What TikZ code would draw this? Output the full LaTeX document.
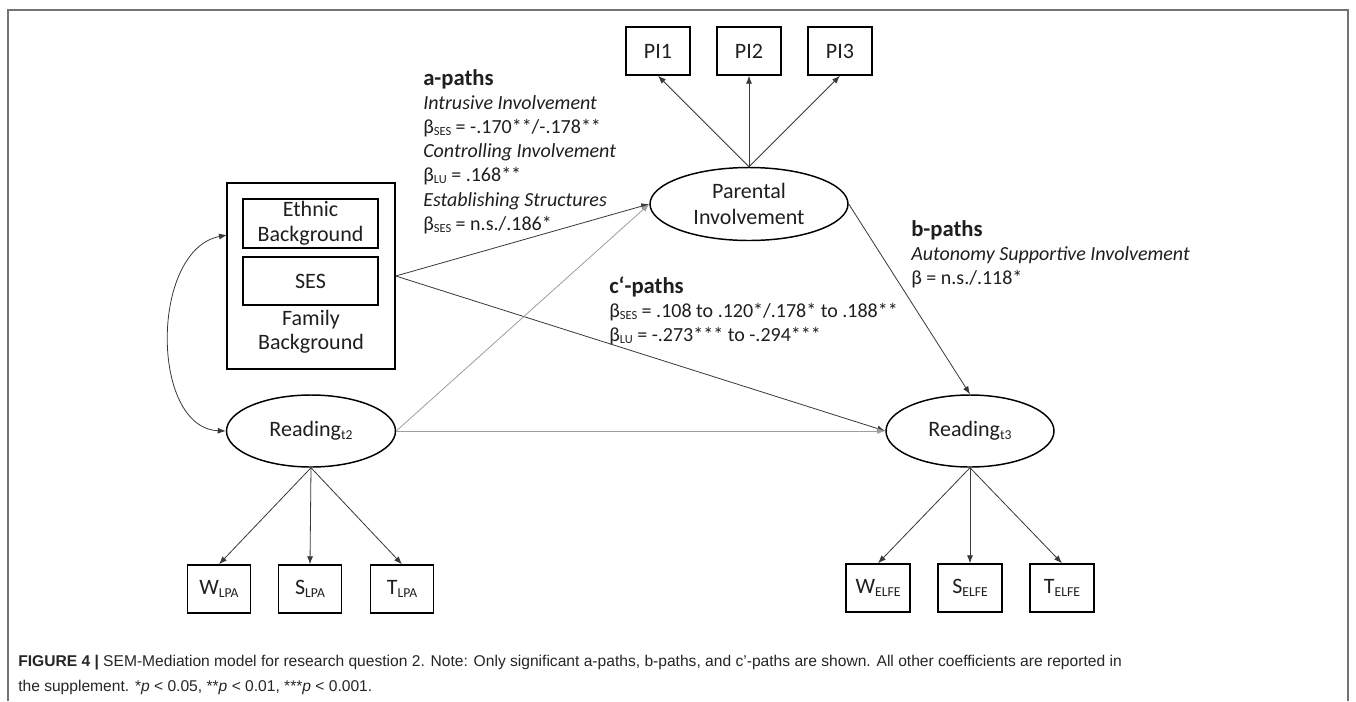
\documentclass[tikz,border=0pt]{standalone}
\usepackage{fontspec}
\setmainfont{Carlito}
\newfontfamily\capfont{Liberation Sans}
\usetikzlibrary{arrows.meta,shapes.geometric}
\newcommand\sbs[1]{\raisebox{-0.28ex}{\scalebox{0.62}{#1}}}
\begin{document}
\begin{tikzpicture}[x=0.75pt,y=-0.75pt,
  every node/.style={font=\fontsize{16.5pt}{19.5pt}\selectfont, text=black!88},
  obs/.style={draw, line width=1.1pt, minimum width=47.5pt, minimum height=36pt, inner sep=0pt},
  lat/.style={ellipse, draw, line width=1.1pt, inner sep=0pt},
  arr/.style={-{Latex[length=6pt,width=4.5pt]}, line width=0.6pt, draw=black!78},
  garr/.style={arr, draw=black!38},
  lbl/.style={anchor=base west, inner sep=0pt, font=\fontsize{15pt}{18pt}\selectfont},
  ital/.style={lbl, font=\fontsize{15pt}{18pt}\selectfont\itshape},
  hdr/.style={lbl, font=\fontsize{17pt}{20pt}\selectfont\bfseries},
  captxt/.style={anchor=base west, inner sep=0pt, font=\capfont\fontsize{11.7pt}{14pt}\selectfont, text=black!85}
]
\useasboundingbox (0,0) rectangle (1356,701);
\fill[white] (0,0) rectangle (1356,701);
% frame
\draw[line width=1.1pt, draw=black!55] (8,701) -- (8,10) -- (1348,10) -- (1348,701);

% Parental involvement
\node[lat, minimum width=148.5pt, minimum height=54.75pt, align=center] (par) at (749,204) {Parental\\Involvement};
\node[obs, minimum width=48pt] (pi1) at (658,51) {PI1};
\node[obs, minimum width=48pt] (pi2) at (749,51) {PI2};
\node[obs, minimum width=48pt] (pi3) at (840,51) {PI3};
\draw[arr] (par.north) -- (pi1.south);
\draw[arr] (par.north) -- (pi2.south);
\draw[arr] (par.north) -- (pi3.south);

% Family background
\node[draw, line width=1.1pt, minimum width=126pt, minimum height=139.5pt, inner sep=0pt] (fam) at (311,276) {};
\node[draw, line width=1.1pt, minimum width=101.25pt, minimum height=36.75pt, inner sep=0pt, align=center] (eth) at (310.5,223.5) {Ethnic\\[-1pt]Background};
\node[draw, line width=1.1pt, minimum width=101.25pt, minimum height=36pt, inner sep=0pt] (ses) at (310.5,281) {SES};
\node[inner sep=0pt, align=center, font=\fontsize{16.5pt}{18pt}\selectfont] (famlab) at (311,332) {Family\\Background};

% Reading t2
\node[lat, minimum width=126.75pt, minimum height=54pt] (rt2) at (311,431) {Reading\sbs{t2}};
\node[obs] (wl) at (219,589) {W\sbs{LPA}};
\node[obs] (sl) at (310,589) {S\sbs{LPA}};
\node[obs] (tl) at (402,589) {T\sbs{LPA}};
\draw[arr] (rt2.south) -- (wl.north);
\draw[arr] (rt2.south) -- (sl.north);
\draw[arr] (rt2.south) -- (tl.north);

% Reading t3
\node[lat, minimum width=126pt, minimum height=54pt] (rt3) at (970,431) {Reading\sbs{t3}};
\node[obs, minimum width=48pt] (we) at (878,588) {W\sbs{ELFE}};
\node[obs, minimum width=48pt] (se) at (970,588) {S\sbs{ELFE}};
\node[obs, minimum width=48pt] (te) at (1062,588) {T\sbs{ELFE}};
\draw[arr] (rt3.south) -- (we.north);
\draw[arr] (rt3.south) -- (se.north);
\draw[arr] (rt3.south) -- (te.north);

% covariance
\coordinate (famL) at (227,235);
\draw[{Latex[length=6pt,width=4.5pt]}-{Latex[length=6pt,width=4.5pt]}, line width=0.6pt, draw=black!78]
  (rt2.west) .. controls (150,428) and (150,250) .. (famL);

% structural paths
\draw[arr] (fam.east) -- (par.west);
\draw[arr] (fam.east) -- (rt3.west);
\draw[garr] (rt2.east) -- (par.west);
\draw[garr] (rt2.east) -- (rt3.west);
\draw[arr] (par.east) -- (rt3.north);

% a-paths
\node[hdr] (ah) at (423,85) {a-paths};
\node[ital] (a1) at (423,109) {Intrusive Involvement};
\node[lbl] (a2) at (423,133) {β\sbs{SES} = -.170**/-.178**};
\node[ital] (a3) at (423,157) {Controlling Involvement};
\node[lbl] (a4) at (423,181) {β\sbs{LU} = .168**};
\node[ital] (a5) at (423,206) {Establishing Structures};
\node[lbl] (a6) at (423,230) {β\sbs{SES} = n.s./.186*};

% b-paths
\node[hdr] (bh) at (911,236) {b-paths};
\node[ital] (b1) at (911,260) {Autonomy Supportive Involvement};
\node[lbl] (b2) at (911,284) {β = n.s./.118*};

% c'-paths
\node[hdr] (ch) at (609,293) {c‘-paths};
\node[lbl] (c1) at (609,317) {β\sbs{SES} = .108 to .120*/.178* to .188**};
\node[lbl] (c2) at (609,341) {β\sbs{LU} = -.273*** to -.294***};

% caption
\node[captxt] (cap1) at (18,666) {\textbf{FIGURE 4 |} SEM-Mediation model for research question 2. Note: Only significant a-paths, b-paths, and c’-paths are shown. All other coefficients are reported in};
\node[captxt] (cap2) at (18,691) {the supplement. *\textit{p} < 0.05, **\textit{p} < 0.01, ***\textit{p} < 0.001.};
\end{tikzpicture}
\end{document}
